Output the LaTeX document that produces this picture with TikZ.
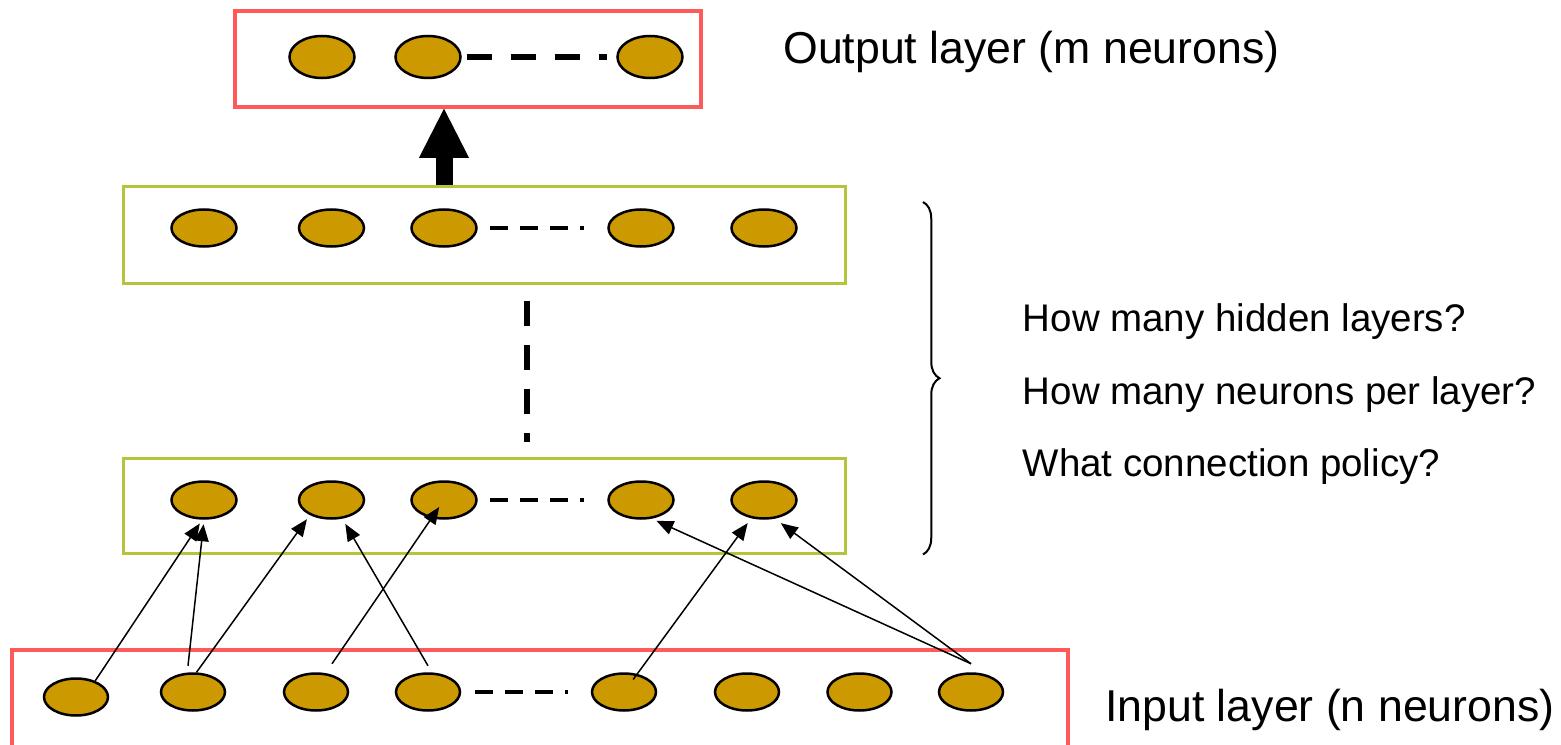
\documentclass[tikz,border=0pt]{standalone}
\usepackage{xcolor}
\usepackage{fontspec}
\setmainfont{Liberation Sans}
\usepackage{tikz}
\usetikzlibrary{calc}
\usetikzlibrary{shapes.geometric}
\usetikzlibrary{arrows.meta}
\usetikzlibrary{decorations.pathreplacing}

\definecolor{neuronfill}{RGB}{204,153,0}
\definecolor{layerred}{RGB}{255,90,90}
\definecolor{layergreen}{RGB}{181,196,58}

\begin{document}
\begin{tikzpicture}[>={Triangle[length=0.34cm,width=0.28cm]},
		neuron/.style={ellipse,draw=black,fill=neuronfill,line width=0.05cm,minimum width=1.30cm,minimum height=0.74cm,inner sep=0pt},
		redbox/.style={rectangle,draw=layerred,line width=0.07cm},
		greenbox/.style={rectangle,draw=layergreen,line width=0.06cm,minimum width=14.44cm,minimum height=1.94cm},
		link/.style={->,line width=0.03cm},
		rowdash/.style={line width=0.09cm,dash pattern=on 0.36cm off 0.24cm},
		bigdash/.style={line width=0.13cm,dash pattern=on 0.5cm off 0.38cm},
		laytext/.style={anchor=base west,inner sep=0pt,font=\fontsize{25.4}{30}\selectfont},
		question/.style={anchor=base west,inner sep=0pt,font=\fontsize{21.9}{26}\selectfont}]
		\useasboundingbox (0,0) rectangle (31.22,14.88);

		%layers
		\node [redbox,minimum width=9.32cm,minimum height=1.92cm] at (9.36,13.70) (outbox) {};
		\node [greenbox] at (9.68,10.19) (hidtop) {};
		\node [greenbox,minimum height=1.90cm] at (9.68,4.77) (hidbot) {};
		\node [redbox,minimum width=21.12cm,minimum height=2.4cm] at (10.80,0.68) (inbox) {};

		%output neurons
		\node [neuron,minimum height=0.84cm] at (6.44,13.74) (o1) {};
		\node [neuron,minimum height=0.84cm] at ($(o1)+(2.12cm,0cm)$) (o2) {};
		\node [neuron,minimum height=0.84cm] at ($(o2)+(4.44cm,0cm)$) (o3) {};

		%hidden neurons
		\node [neuron] at (4.08,10.32) (t1) {};
		\node [neuron] at ($(t1)+(2.55cm,0cm)$) (t2) {};
		\node [neuron] at ($(t2)+(2.25cm,0cm)$) (t3) {};
		\node [neuron] at ($(t3)+(3.94cm,0cm)$) (t4) {};
		\node [neuron] at ($(t4)+(2.46cm,0cm)$) (t5) {};

		\node [neuron] at ($(t1)+(0cm,-5.44cm)$) (b1) {};
		\node [neuron] at ($(t2)+(0cm,-5.44cm)$) (b2) {};
		\node [neuron] at ($(t3)+(0cm,-5.44cm)$) (b3) {};
		\node [neuron] at ($(t4)+(0cm,-5.44cm)$) (b4) {};
		\node [neuron] at ($(t5)+(0cm,-5.44cm)$) (b5) {};

		%input neurons
		\node [neuron,minimum width=1.28cm] at (1.52,0.94) (i1) {};
		\node [neuron,minimum width=1.28cm] at (3.86,1.04) (i2) {};
		\node [neuron,minimum width=1.28cm] at ($(i2)+(2.46cm,0cm)$) (i3) {};
		\node [neuron,minimum width=1.28cm] at ($(i3)+(2.24cm,0cm)$) (i4) {};
		\node [neuron,minimum width=1.28cm] at ($(i4)+(3.92cm,0cm)$) (i5) {};
		\node [neuron,minimum width=1.28cm] at ($(i5)+(2.46cm,0cm)$) (i6) {};
		\node [neuron,minimum width=1.28cm] at ($(i6)+(2.25cm,0cm)$) (i7) {};
		\node [neuron,minimum width=1.28cm] at ($(i7)+(2.23cm,0cm)$) (i8) {};

		%text
		\node [laytext] at (15.66,13.62) (outtext) {Output layer (m neurons)};
		\node [laytext] at (22.10,0.45) (intext) {Input layer (n neurons)};
		\node [question] at (20.45,8.25) (q1) {How many hidden layers?};
		\node [question] at (20.45,6.80) (q2) {How many neurons per layer?};
		\node [question] at (20.45,5.35) (q3) {What connection policy?};

		%skipped neurons and layers
		\draw [bigdash,shorten <=0.1cm,shorten >=0.18cm] (o2.east) -- (o3.west);
		\draw [rowdash,shorten <=0.25cm,shorten >=0.46cm] (t3.east) -- (t4.west);
		\draw [rowdash,shorten <=0.25cm,shorten >=0.46cm] (b3.east) -- (b4.west);
		\draw [rowdash,shorten <=0.28cm,shorten >=0.46cm] (i4.east) -- (i5.west);
		\coordinate (skip) at (10.54,7.5);
		\draw [bigdash,shorten <=0.32cm,shorten >=0.30cm] (hidtop.south -| skip) -- (hidbot.north -| skip);

		%hidden to output
		\draw [line width=0.34cm,-{Triangle[length=0.98cm,width=1.0cm,line width=0pt]}] (t3 |- hidtop.north) -- (t3 |- outbox.south);

		%input to first hidden layer
		\draw [link,shorten >=0.09cm] (i1.40) -- (b1.265);
		\draw [link,shorten >=0.09cm] ([xshift=-0.1cm,yshift=0.13cm]i2.north) -- (b1.south);
		\draw [link,shorten >=0.1cm] (i2.80) -- (b2.215);
		\draw [link,shorten >=0.17cm] ([xshift=0.32cm,yshift=0.17cm]i3.north) -- (b3.center);
		\draw [link,shorten >=0.12cm] ([yshift=0.13cm]i4.north) -- (b2.300);
		\draw [link,shorten <=0.31cm,shorten >=0.12cm] (i5.center) -- (b5.235);
		\draw [link,shorten >=0.1cm] ([yshift=0.17cm]i8.north) -- (b4.300);
		\draw [link,shorten >=0.15cm] ([yshift=0.17cm]i8.north) -- (b5.300);

		%hidden layers brace
		\coordinate (bracetop) at (18.46,10.84);
		\draw [decorate,decoration={brace,amplitude=0.33cm},line width=0.04cm] (bracetop) -- (bracetop |- hidbot.south);
\end{tikzpicture}
\end{document}
